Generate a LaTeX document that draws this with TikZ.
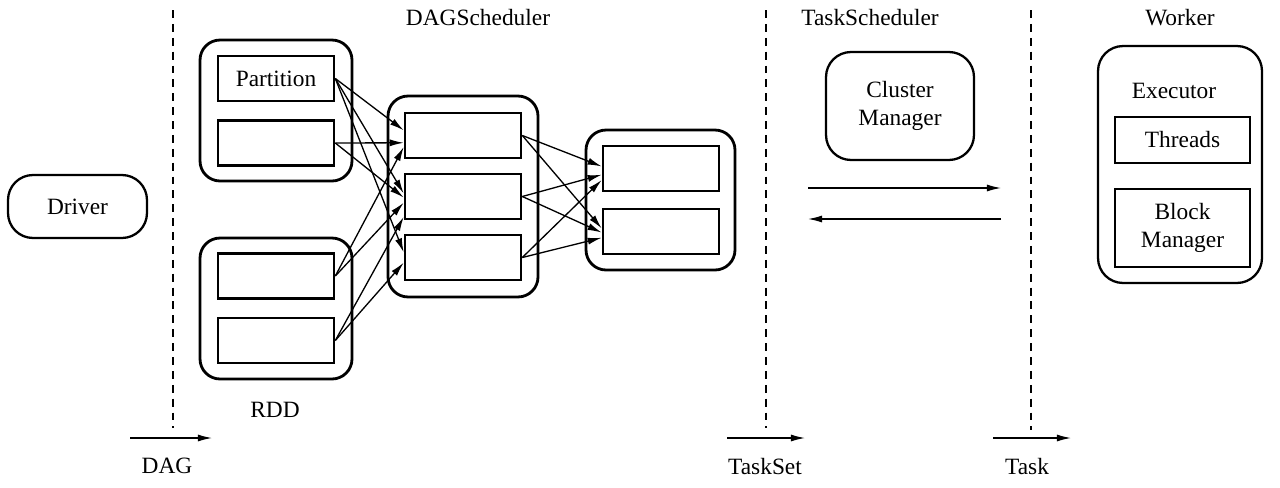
\documentclass[tikz,border=0pt]{standalone}
\usepackage{fontspec}
\setmainfont{Liberation Serif}
\usetikzlibrary{arrows.meta}

\tikzset{
  partbox/.style={draw, line width=1.5pt, minimum width=2.32cm, minimum height=0.9cm, inner sep=0pt},
  groupbox/.style={draw, line width=1.6pt, rounded corners=0.4cm, inner sep=0pt},
  unitbox/.style={draw, line width=1.3pt, rounded corners=0.5cm, inner sep=0pt, align=center},
  flow/.style={-{Latex[length=8pt,width=4pt]}, line width=0.75pt},
  cutline/.style={dash pattern=on 4.5pt off 3.4pt, line width=0.7pt}
}

\begin{document}
\begin{tikzpicture}[x=0.02cm, y=-0.02cm, font=\fontsize{13.3}{16.4}\selectfont]

\useasboundingbox ( 0, 0 ) rectangle ( 1280, 487 );

% Stage borders
\coordinate (cutA top) at ( 173, 10 );
\coordinate (cutA bot) at ( 173, 428 );
\coordinate (cutB top) at ( 766, 10 );
\coordinate (cutB bot) at ( 766, 428 );
\coordinate (cutC top) at ( 1031, 10 );
\coordinate (cutC bot) at ( 1031, 430 );
\draw [cutline] (cutA top) -- (cutA bot);
\draw [cutline] (cutB top) -- (cutB bot);
\draw [cutline] (cutC top) -- (cutC bot);

% Headers
\node (dagsched) at ( 478, 18 ) {DAGScheduler};
\node (tasksched) at ( 870, 18 ) {TaskScheduler};
\node (worker) at ( 1180, 18 ) {Worker};

% Driver
\node [unitbox, minimum width=2.78cm, minimum height=1.26cm] (driver) at ( 77.5, 206.5 ) {Driver};

% RDD
\node [groupbox, minimum width=3.04cm, minimum height=2.82cm] (rddA) at ( 276, 110.5 ) {};
\node [groupbox, minimum width=3.04cm, minimum height=2.82cm] (rddB) at ( 276, 308.5 ) {};
\node [partbox] (pA1) at ( 276, 78.5 ) {Partition};
\node [partbox] (pA2) at ( 276, 143 ) {};
\node [partbox] (pB1) at ( 276, 276 ) {};
\node [partbox] (pB2) at ( 276, 340.5 ) {};
\node (rdd) at ( 275, 410 ) {RDD};

% Middle stage
\node [groupbox, minimum width=3.0cm, minimum height=4.02cm] (mid) at ( 463, 196.5 ) {};
\node [partbox] (pC1) at ( 463, 135.5 ) {};
\node [partbox] (pC2) at ( 463, 196.5 ) {};
\node [partbox] (pC3) at ( 463, 257.5 ) {};

% Final stage
\node [groupbox, minimum width=2.98cm, minimum height=2.8cm] (fin) at ( 660.5, 200 ) {};
\node [partbox] (pD1) at ( 661, 168.5 ) {};
\node [partbox] (pD2) at ( 661, 231.5 ) {};

% Dependencies
\draw [flow] (pA1.east) -- (pC1.175);
\draw [flow] (pA1.east) -- (pC2.177);
\draw [flow] (pA1.east) -- (pC3.175);
\draw [flow] (pA2.east) -- (pC1.187);
\draw [flow] (pA2.east) -- (pC2.181);
\draw [flow] (pB1.east) -- (pC1.191);
\draw [flow] (pB1.east) -- (pC2.186);
\draw [flow] (pB2.east) -- (pC2.199);
\draw [flow] (pB2.east) -- (pC3.185);

\draw [flow] (pC1.east) -- (pD1.178);
\draw [flow] (pC1.east) -- (pD2.177);
\draw [flow] (pC2.east) -- (pD1.186);
\draw [flow] (pC2.east) -- (pD2.181);
\draw [flow] (pC3.east) -- (pD1.191);
\draw [flow] (pC3.east) -- (pD2.186);

% Cluster manager
\node [unitbox, minimum width=2.96cm, minimum height=2.16cm] (cluster) at ( 900, 106 ) {Cluster\\Manager};
\coordinate (launch) at ( 808, 188 );
\coordinate (launched) at ( 1001, 188 );
\coordinate (status) at ( 1001, 219 );
\coordinate (statused) at ( 808, 219 );
\draw [flow] (launch) -- (launched);
\draw [flow] (status) -- (statused);

% Worker
\node [unitbox, minimum width=3.28cm, minimum height=4.74cm] (workerbox) at ( 1180, 164.5 ) {};
\node (executor) at ( 1174, 91 ) {Executor};
\node [draw, line width=1.4pt, minimum width=2.7cm, minimum height=0.92cm] (threads) at ( 1182.5, 140 ) {Threads};
\node [draw, line width=1.4pt, minimum width=2.7cm, minimum height=1.56cm, align=center] (blockmgr) at ( 1182.5, 228 ) {Block\\Manager};

% Outputs
\coordinate (dagS) at ( 130, 438 );
\coordinate (dagE) at ( 212, 438 );
\coordinate (setS) at ( 727, 438 );
\coordinate (setE) at ( 805, 438 );
\coordinate (taskS) at ( 993, 438 );
\coordinate (taskE) at ( 1071, 438 );
\draw [flow] (dagS) -- (dagE);
\draw [flow] (setS) -- (setE);
\draw [flow] (taskS) -- (taskE);
\node (dag) at ( 167, 466 ) {DAG};
\node (taskset) at ( 765, 466 ) {TaskSet};
\node (task) at ( 1027, 466 ) {Task};

\end{tikzpicture}
\end{document}
